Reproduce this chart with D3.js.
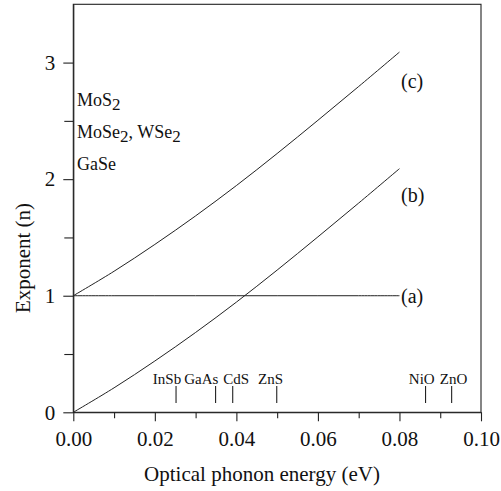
<!DOCTYPE html>
<html>
<head>
<meta charset="utf-8">
<script src="https://cdn.jsdelivr.net/npm/d3@7"></script>
<style>
  body { margin: 0; background: #fff; }
  text { font-family: "Liberation Serif", "Times New Roman", serif; fill: #111; }
</style>
</head>
<body>
<div id="chart"></div>
<script>
// optical phonon energy (eV) sampled along the curves
const energy = [0, 0.01, 0.02, 0.03, 0.04, 0.05, 0.06, 0.07, 0.08];
const curveA = [1, 1, 1, 1, 1, 1, 1, 1, 1];
const curveB = [0, 0.21, 0.44, 0.685, 0.945, 1.22, 1.505, 1.795, 2.09];
const curveC = [1, 1.21, 1.44, 1.685, 1.945, 2.22, 2.505, 2.795, 3.09];
const curveNames = ["(a)", "(b)", "(c)"];
const curveLabelN = [1, 1.86, 2.84];

// materials marked on the energy axis
const materials = ["InSb", "GaAs", "CdS", "ZnS", "NiO", "ZnO"];
const materialEnergy = [0.0252, 0.0349, 0.0391, 0.0499, 0.0864, 0.0928];
// where each label starts (labels are packed like words, not centred)
const materialLabelEnergy = [0.0195, 0.0272, 0.0368, 0.0453, 0.0823, 0.0899];

// layered compounds listed top-left
const layered = [
  [["MoS", false], ["2", true]],
  [["MoSe", false], ["2", true], [", WSe", false], ["2", true]],
  [["GaSe", false]]
];
const layeredN = [2.63, 2.35, 2.08];

const xTicks = [0, 0.02, 0.04, 0.06, 0.08, 0.1];
const xMinor = [0.01, 0.03, 0.05, 0.07, 0.09];
const yTicks = [0, 1, 2, 3];
const yMinor = [0.5, 1.5, 2.5];

const W = 501, H = 491;
const margin = { top: 4.3, right: 20, bottom: 78.7, left: 73.3 };

const svg = d3.select("#chart").append("svg")
  .attr("width", W)
  .attr("height", H);

const x = d3.scaleLinear().domain([0, 0.1]).range([margin.left, W - margin.right]);
const y = d3.scaleLinear().domain([0, 3.5]).range([H - margin.bottom, margin.top]);

// frame
svg.append("rect")
  .attr("x", x(0)).attr("y", y(3.5))
  .attr("width", x(0.1) - x(0)).attr("height", y(0) - y(3.5))
  .attr("fill", "none").attr("stroke", "#222").attr("stroke-width", 1.1);

// x axis
svg.append("g")
  .attr("transform", `translate(0,${y(0)})`)
  .call(d3.axisBottom(x).tickValues(xTicks).tickSize(9).tickSizeOuter(0)
    .tickPadding(10).tickFormat(d3.format(".2f")));
svg.append("g")
  .attr("transform", `translate(0,${y(0)})`)
  .call(d3.axisBottom(x).tickValues(xMinor).tickSize(6).tickSizeOuter(0).tickFormat(""))
  .select(".domain").remove();

// y axis
svg.append("g")
  .attr("transform", `translate(${x(0)},0)`)
  .call(d3.axisLeft(y).tickValues(yTicks).tickSize(10).tickSizeOuter(0)
    .tickPadding(8).tickFormat(d3.format("d")));
svg.append("g")
  .attr("transform", `translate(${x(0)},0)`)
  .call(d3.axisLeft(y).tickValues(yMinor).tickSize(9).tickSizeOuter(0).tickFormat(""))
  .select(".domain").remove();

svg.selectAll(".tick text")
  .style("font-family", "'Liberation Serif', serif")
  .style("font-size", "21px")
  .attr("fill", "#111");
svg.selectAll(".tick line, .domain").attr("stroke", "#222").attr("stroke-width", 1.1);

// axis titles
svg.append("text")
  .attr("x", 262).attr("y", 481)
  .attr("text-anchor", "middle")
  .style("font-size", "21px")
  .text("Optical phonon energy (eV)");

svg.append("text")
  .attr("transform", `translate(30,${258}) rotate(-90)`)
  .attr("text-anchor", "middle")
  .style("font-size", "21px")
  .text("Exponent (n)");

// curves
const line = d3.line()
  .x((d, i) => x(energy[i]))
  .y(d => y(d))
  .curve(d3.curveCatmullRom);

[curveA, curveB, curveC].forEach(series => {
  svg.append("path")
    .datum(series)
    .attr("fill", "none")
    .attr("stroke", "#222")
    .attr("stroke-width", 1)
    .attr("d", line);
});

svg.selectAll(".curve-label")
  .data(curveNames)
  .join("text")
  .attr("class", "curve-label")
  .attr("x", x(0.0804))
  .attr("y", (d, i) => y(curveLabelN[i]))
  .attr("dy", "0.35em")
  .style("font-size", "20px")
  .text(d => d);

// material markers
svg.selectAll(".mat-tick")
  .data(materials)
  .join("line")
  .attr("class", "mat-tick")
  .attr("x1", (d, i) => x(materialEnergy[i]))
  .attr("x2", (d, i) => x(materialEnergy[i]))
  .attr("y1", y(0.08))
  .attr("y2", y(0.225))
  .attr("stroke", "#222")
  .attr("stroke-width", 1.1);

svg.selectAll(".mat-label")
  .data(materials)
  .join("text")
  .attr("class", "mat-label")
  .attr("x", (d, i) => x(materialLabelEnergy[i]))
  .attr("y", y(0.245))
  .style("font-size", "15px")
  .text(d => d);

// layered compound list
layered.forEach((parts, i) => {
  const t = svg.append("text")
    .attr("x", 77)
    .attr("y", y(layeredN[i]))
    .style("font-size", "18px");
  parts.forEach(([s, sub], j) => {
    t.append("tspan")
      .attr("dy", sub ? 4 : (j > 0 ? -4 : 0))
      .style("font-size", sub ? "17px" : "18px")
      .text(s);
  });
});
</script>
</body>
</html>
